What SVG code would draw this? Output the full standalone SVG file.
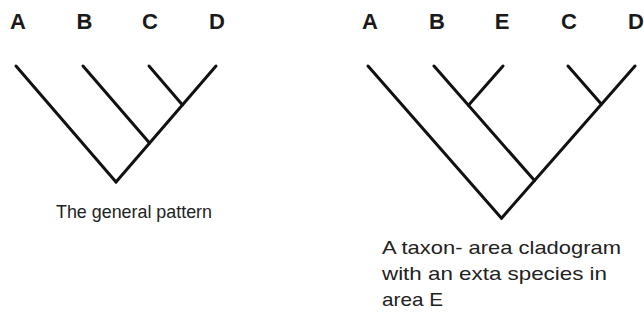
<svg xmlns="http://www.w3.org/2000/svg" width="644" height="322" viewBox="0 0 644 322">
<style>
.lbl{font-family:"Liberation Sans",Arial,sans-serif;font-weight:bold;font-size:22px;fill:#1a1a1a;text-anchor:middle}
.cap{font-family:"Liberation Sans",Arial,sans-serif;font-size:19px;fill:#222}
.br{stroke:#111;stroke-width:3;stroke-linecap:round;fill:none}
</style>
<rect width="644" height="322" fill="#fff"/>
<g id="left-tree">
  <g id="L-A"><text class="lbl" x="18" y="29">A</text></g>
  <g id="L-B"><text class="lbl" x="84.5" y="29">B</text></g>
  <g id="L-C"><text class="lbl" x="150" y="29">C</text></g>
  <g id="L-D"><text class="lbl" x="217" y="29">D</text></g>
  <g id="L-caption"><text class="cap" x="56" y="218" style="font-size:18.5px" textLength="156" lengthAdjust="spacingAndGlyphs">The general pattern</text></g>
</g>
<g id="right-tree">
  <g id="R-A"><text class="lbl" x="370" y="29">A</text></g>
  <g id="R-B"><text class="lbl" x="437" y="29">B</text></g>
  <g id="R-E"><text class="lbl" x="502" y="29">E</text></g>
  <g id="R-C"><text class="lbl" x="569" y="29">C</text></g>
  <g id="R-D"><text class="lbl" x="636" y="29">D</text></g>
  <g id="R-caption">
    <text class="cap" x="382" y="254" textLength="239" lengthAdjust="spacingAndGlyphs">A taxon- area cladogram</text>
    <text class="cap" x="382" y="280" textLength="225" lengthAdjust="spacingAndGlyphs">with an exta species in</text>
    <text class="cap" x="382" y="306" textLength="61" lengthAdjust="spacingAndGlyphs">area E</text>
  </g>
</g>
<g id="connectors" class="br">
  <line x1="16" y1="66" x2="116" y2="182"/>
  <line x1="216" y1="66" x2="116" y2="182"/>
  <line x1="83" y1="66" x2="149.5" y2="143.1"/>
  <line x1="149" y1="66" x2="182.5" y2="104.9"/>
  <line x1="368" y1="66" x2="501.5" y2="218.2"/>
  <line x1="635" y1="66" x2="501.5" y2="218.2"/>
  <line x1="434" y1="66" x2="534.5" y2="180.6"/>
  <line x1="503" y1="66" x2="468.5" y2="105.3"/>
  <line x1="568" y1="66" x2="601.5" y2="104.2"/>
</g>
</svg>
